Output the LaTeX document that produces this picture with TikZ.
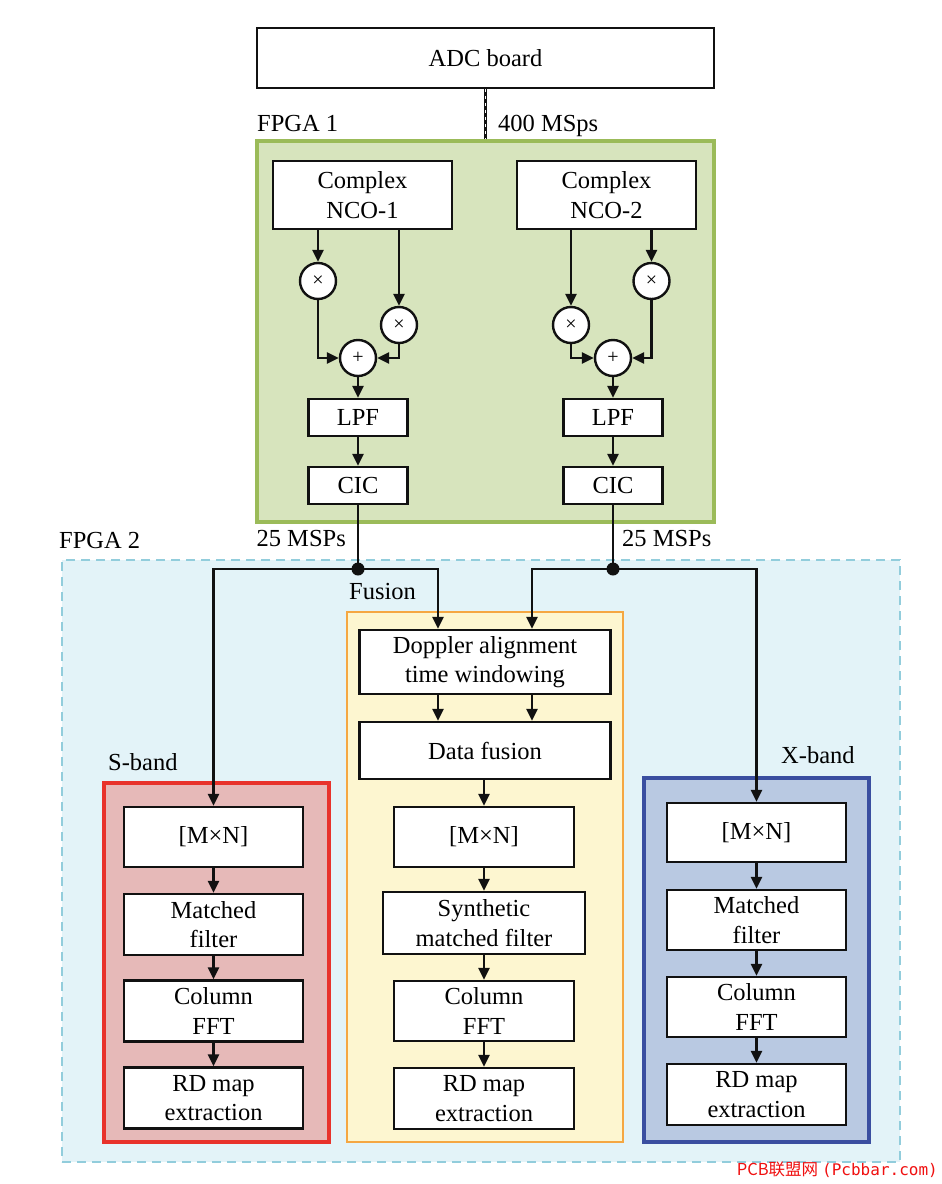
\documentclass[tikz,border=0pt]{standalone}
\usepackage{fontspec}
\setmainfont{Liberation Serif}
\newfontfamily\cjk{Noto Sans CJK SC}
\newfontfamily\wmmono{DejaVu Sans Mono}
\usetikzlibrary{arrows.meta,calc}
\definecolor{gborder}{HTML}{9BBB59}
\definecolor{gfill}{HTML}{D7E4BD}
\definecolor{bborder}{HTML}{92CDDC}
\definecolor{bfill}{HTML}{E3F3F8}
\definecolor{oborder}{HTML}{F5A742}
\definecolor{ofill}{HTML}{FDF6D0}
\definecolor{rborder}{HTML}{E8322B}
\definecolor{rfill}{HTML}{E6B9B8}
\definecolor{xborder}{HTML}{3A4EA0}
\definecolor{xfill}{HTML}{B9C9E2}
\definecolor{wmred}{HTML}{F01010}
\definecolor{lineblk}{HTML}{111111}
\begin{document}
\begin{tikzpicture}[x=1pt,y=-1pt,
  font=\fontsize{24.5}{29.5}\selectfont,
  blk/.style={draw=lineblk, line width=2.4pt, fill=white, align=center, inner sep=0pt},
  opc/.style={circle, draw=lineblk, line width=2.4pt, fill=white, minimum size=36pt, inner sep=0pt, font=\fontsize{20}{20}\selectfont},
  arr/.style={line width=2.4pt, draw=lineblk, -{Triangle[length=12pt,width=11pt]}},
  ln/.style={line width=2.4pt, draw=lineblk},
  cont/.style={inner sep=0pt},
  lbl/.style={inner sep=0pt},
]
\useasboundingbox (0,0) rectangle (942,1184);
\fill[white] (0,0) rectangle (942,1184);

% containers
\node[cont, draw=bborder, fill=bfill, line width=2.2pt, dash pattern=on 9pt off 6pt, minimum width=838pt, minimum height=602pt] (fpga2) at (481,861) {};
\node[cont, draw=gborder, fill=gfill, line width=3.2pt, minimum width=457pt, minimum height=381pt] (fpga1) at (485.5,331.5) {};
\node[cont, draw=oborder, fill=ofill, line width=2.6pt, minimum width=276pt, minimum height=530pt] (fus) at (485,877) {};
\node[cont, draw=rborder, fill=rfill, line width=3.2pt, minimum width=225pt, minimum height=359pt] (sband) at (216.5,962.5) {};
\node[cont, draw=xborder, fill=xfill, line width=3.2pt, minimum width=225pt, minimum height=364pt] (xband) at (756.5,960) {};

% top
\node[blk, minimum width=457pt, minimum height=60pt] (adc) at (485.5,58) {ADC board};

% FPGA 1
\node[blk, minimum width=179pt, minimum height=68pt] (nco1) at (362.5,195) {Complex\\NCO-1};
\node[blk, minimum width=179pt, minimum height=68pt] (nco2) at (606.5,195) {Complex\\NCO-2};
\node[opc] (m1) at (318,281) {×};
\node[opc] (m2) at (399,325) {×};
\node[opc] (p1) at (358,358) {+};
\node[opc] (m3) at (571,325) {×};
\node[opc] (m4) at (651.5,281) {×};
\node[opc] (p2) at (613,358) {+};
\node[blk, minimum width=99pt, minimum height=37pt] (lpf1) at (358,417.5) {LPF};
\node[blk, minimum width=99pt, minimum height=37pt] (cic1) at (358,485.5) {CIC};
\node[blk, minimum width=99pt, minimum height=37pt] (lpf2) at (613,417.5) {LPF};
\node[blk, minimum width=99pt, minimum height=37pt] (cic2) at (613,485.5) {CIC};

% junction dots
\node[circle, fill=lineblk, minimum size=13pt, inner sep=0pt] (d1) at (358,569) {};
\node[circle, fill=lineblk, minimum size=13pt, inner sep=0pt] (d2) at (613,569) {};

% Fusion
\node[blk, minimum width=251pt, minimum height=64pt] (dop) at (485,662) {Doppler alignment\\time windowing};
\node[blk, minimum width=251pt, minimum height=57pt] (dfus) at (485,750.5) {Data fusion};
\node[blk, minimum width=180pt, minimum height=60pt] (fmn) at (484,837) {[M×N]};
\node[blk, minimum width=202pt, minimum height=62pt] (fmf) at (484,923) {Synthetic\\matched filter};
\node[blk, minimum width=180pt, minimum height=60pt] (ffft) at (484,1011) {Column\\FFT};
\node[blk, minimum width=180pt, minimum height=61pt] (frd) at (484,1098.5) {RD map\\extraction};

% S-band
\node[blk, minimum width=179pt, minimum height=60pt] (smn) at (213.5,837) {[M×N]};
\node[blk, minimum width=179pt, minimum height=61pt] (smf) at (213.5,924.5) {Matched\\filter};
\node[blk, minimum width=179pt, minimum height=61pt] (sfft) at (213.5,1011) {Column\\FFT};
\node[blk, minimum width=179pt, minimum height=61pt] (srd) at (213.5,1098) {RD map\\extraction};

% X-band
\node[blk, minimum width=179pt, minimum height=59pt] (xmn) at (756.5,832.5) {[M×N]};
\node[blk, minimum width=179pt, minimum height=60pt] (xmf) at (756.5,920) {Matched\\filter};
\node[blk, minimum width=179pt, minimum height=60pt] (xfft) at (756.5,1007) {Column\\FFT};
\node[blk, minimum width=179pt, minimum height=61pt] (xrd) at (756.5,1094.5) {RD map\\extraction};

% labels
\node[lbl, anchor=base west] (lf1) at (257,131) {FPGA 1};
\node[lbl, anchor=base west] (l400) at (498,131) {400 MSps};
\node[lbl, anchor=base east] (l25a) at (346,546) {25 MSPs};
\node[lbl, anchor=base west] (l25b) at (622,546) {25 MSPs};
\node[lbl, anchor=base west] (lf2) at (59,548) {FPGA 2};
\node[lbl, anchor=base west] (lfus) at (349,599) {Fusion};
\node[lbl, anchor=base west] (lsb) at (108,770) {S-band};
\node[lbl, anchor=base west] (lxb) at (781,763) {X-band};
\node[lbl, anchor=base east, text=wmred] (wm) at (938,1175) {{\cjk\fontsize{16.5}{18}\selectfont PCB联盟网}\,{\wmmono\fontsize{16}{18}\selectfont(Pcbbar.com)}};

% connectors
\draw[line width=3.2pt, lineblk] (adc.south) -- (fpga1.north);
\draw[line width=1.2pt, white, dash pattern=on 3pt off 4pt] (adc.south) -- (fpga1.north);

\draw[arr] (m1 |- nco1.south) -- (m1);
\draw[arr] (m2 |- nco1.south) -- (m2);
\draw[arr] (m1) |- (p1);
\draw[arr] (m2) |- (p1);
\draw[arr] (p1) -- (lpf1);
\draw[arr] (lpf1) -- (cic1);

\draw[arr] (m3 |- nco2.south) -- (m3);
\draw[arr] (m4 |- nco2.south) -- (m4);
\draw[arr] (m3) |- (p2);
\draw[arr] (m4) |- (p2);
\draw[arr] (p2) -- (lpf2);
\draw[arr] (lpf2) -- (cic2);

\draw[ln] (cic1) -- (d1.center);
\draw[ln] (cic2) -- (d2.center);
\draw[arr] (d1.center) -| (smn);
\draw[arr] (d1.center) -| ([xshift=-47pt]dop.north);
\draw[arr] (d2.center) -| ([xshift=47pt]dop.north);
\draw[arr] (d2.center) -| (xmn);

\draw[arr] ([xshift=-47pt]dop.south) -- ([xshift=-47pt]dfus.north);
\draw[arr] ([xshift=47pt]dop.south) -- ([xshift=47pt]dfus.north);
\draw[arr] (fmn |- dfus.south) -- (fmn);
\draw[arr] (fmn) -- (fmf);
\draw[arr] (fmf) -- (ffft);
\draw[arr] (ffft) -- (frd);

\draw[arr] (smn) -- (smf);
\draw[arr] (smf) -- (sfft);
\draw[arr] (sfft) -- (srd);

\draw[arr] (xmn) -- (xmf);
\draw[arr] (xmf) -- (xfft);
\draw[arr] (xfft) -- (xrd);
\end{tikzpicture}
\end{document}
